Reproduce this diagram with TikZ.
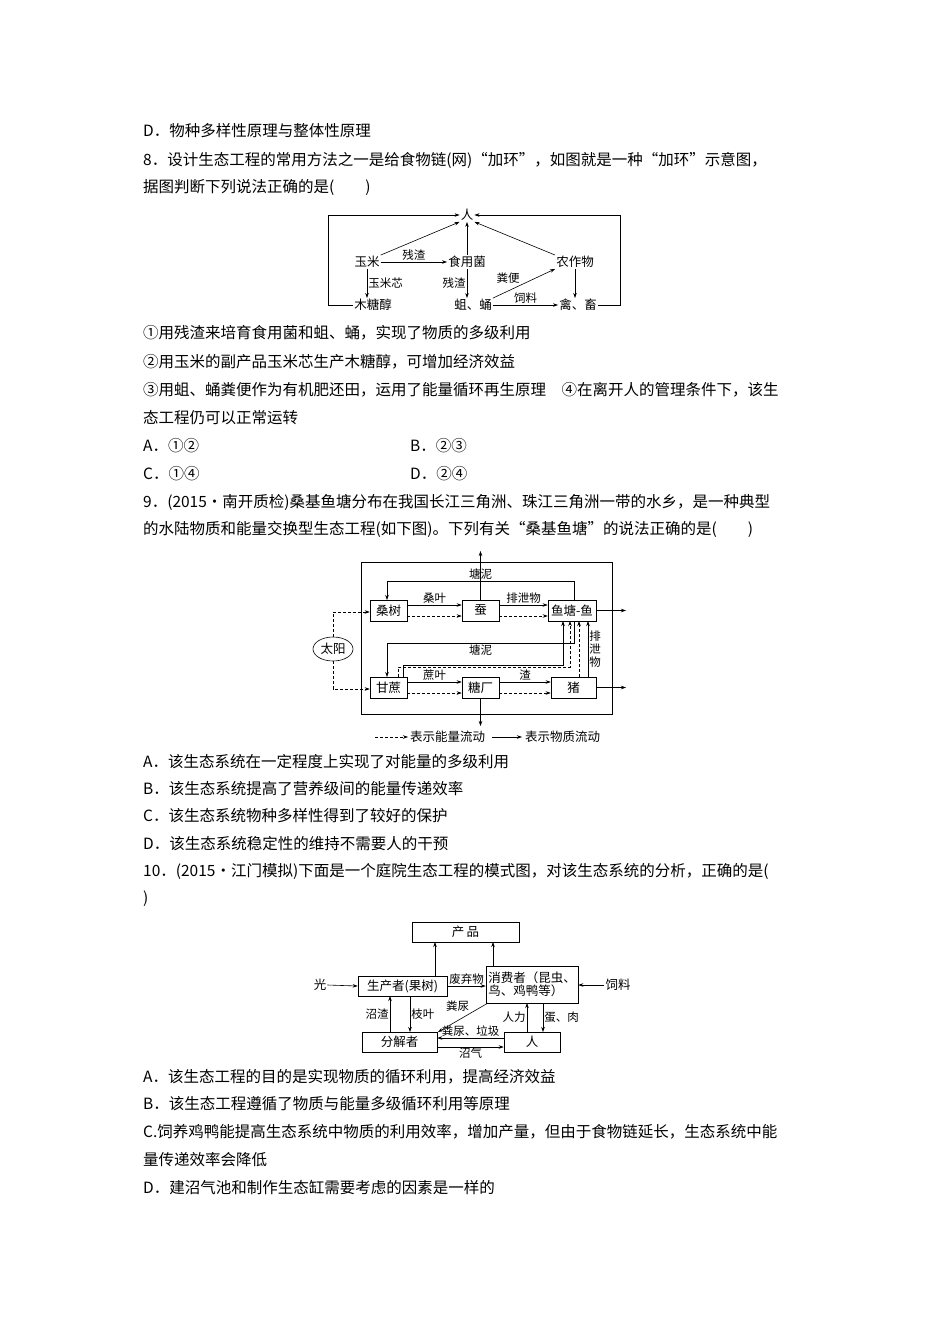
\documentclass[tikz,border=0pt]{standalone}
\usepackage{fontspec}
\setmainfont{Noto Sans CJK SC}
\usetikzlibrary{arrows.meta,shapes.geometric}
\begin{document}
\begin{tikzpicture}[x=1pt,y=-1pt,
  line/.style={anchor=west,inner sep=0pt,font=\fontsize{15.5}{16}\selectfont},
  lab/.style={inner sep=1pt,font=\fontsize{11.5}{12}\selectfont},
  dn/.style={inner sep=1pt,font=\fontsize{12.5}{13}\selectfont},
  bx/.style={draw,line width=0.6pt,inner sep=0pt},
  ar/.style={line width=0.6pt,-{Stealth[length=5pt,width=3.5pt]}},
  da/.style={ar,dashed,dash pattern=on 3pt off 2pt}]
\useasboundingbox[fill=white] (0,0) rectangle (950,1344);
% text lines
\node[line] (t1) at (143,131) {D．物种多样性原理与整体性原理};
\node[line] (t2) at (143,160) {8．设计生态工程的常用方法之一是给食物链(网)“加环”，如图就是一种“加环”示意图，};
\node[line] (t3) at (143,187) {据图判断下列说法正确的是(\hspace{2em})};
\node[line] (t4) at (143,333) {①用残渣来培育食用菌和蛆、蛹，实现了物质的多级利用};
\node[line] (t5) at (143,362) {②用玉米的副产品玉米芯生产木糖醇，可增加经济效益};
\node[line] (t6) at (143,390) {③用蛆、蛹粪便作为有机肥还田，运用了能量循环再生原理\hspace{1em}④在离开人的管理条件下，该生};
\node[line] (t7) at (143,418) {态工程仍可以正常运转};
\node[line] (t8) at (143,446) {A．①②};
\node[line] (t9) at (410,446) {B．②③};
\node[line] (t10) at (143,474) {C．①④};
\node[line] (t11) at (410,474) {D．②④};
\node[line] (t12) at (143,502) {9．(2015·南开质检)桑基鱼塘分布在我国长江三角洲、珠江三角洲一带的水乡，是一种典型};
\node[line] (t13) at (143,529) {的水陆物质和能量交换型生态工程(如下图)。下列有关“桑基鱼塘”的说法正确的是(\hspace{2em})};
\node[line] (t14) at (143,762) {A．该生态系统在一定程度上实现了对能量的多级利用};
\node[line] (t15) at (143,789) {B．该生态系统提高了营养级间的能量传递效率};
\node[line] (t16) at (143,816) {C．该生态系统物种多样性得到了较好的保护};
\node[line] (t17) at (143,844) {D．该生态系统稳定性的维持不需要人的干预};
\node[line] (t18) at (143,871) {10．(2015·江门模拟)下面是一个庭院生态工程的模式图，对该生态系统的分析，正确的是(};
\node[line] (t19) at (143,899) {)};
\node[line] (t20) at (143,1077) {A．该生态工程的目的是实现物质的循环利用，提高经济效益};
\node[line] (t21) at (143,1104) {B．该生态工程遵循了物质与能量多级循环利用等原理};
\node[line] (t22) at (143,1132) {C.饲养鸡鸭能提高生态系统中物质的利用效率，增加产量，但由于食物链延长，生态系统中能};
\node[line] (t23) at (143,1160) {量传递效率会降低};
\node[line] (t24) at (143,1187) {D．建沼气池和制作生态缸需要考虑的因素是一样的};
% diagram 1
\node[dn] (ren) at (467,215) {人};
\node[dn] (ym) at (367,262) {玉米};
\node[dn] (syj) at (467,262) {食用菌};
\node[dn] (nzw) at (575,262) {农作物};
\node[dn] (mtc) at (373,305) {木糖醇};
\node[dn] (qy) at (473,305) {蛆、蛹};
\node[dn] (qc) at (578,305) {禽、畜};
\draw[ar] (ym.east) -- node[lab,above]{残渣} (syj.west);
\draw[ar] (ym.south) -- node[lab,right]{玉米芯} (ym.south|-mtc.north);
\draw[ar] (syj.south) -- node[lab,left]{残渣} (syj.south|-qy.north);
\draw[ar] (syj.north) -- (ren.south);
\draw[ar] (ym.north east) -- (ren.south west);
\draw[ar] (nzw.north west) -- (ren.south east);
\draw[ar] (qy.north east) -- node[lab,above left,pos=0.45]{粪便} (nzw.south west);
\draw[ar] (qy.east) -- node[lab,above]{饲料} (qc.west);
\draw[ar] (nzw.south) -- (nzw.south|-qc.north);
\draw[ar] (mtc.west) -| (328,215) -- (ren.west);
\draw[ar] (qc.east) -| (620,215) -- (ren.east);
% diagram 2
\draw[line width=0.6pt] (361,562) rectangle (612,714);
\node[bx,minimum width=37pt,minimum height=21pt,dn] (ss) at (388.5,610.5) {桑树};
\node[bx,minimum width=37pt,minimum height=21pt,dn] (can) at (480.5,610.5) {蚕};
\node[bx,minimum width=48pt,minimum height=21pt,dn] (yt) at (572,610.5) {鱼塘-鱼};
\node[bx,minimum width=37pt,minimum height=21pt,dn] (gz) at (388.5,687.5) {甘蔗};
\node[bx,minimum width=37pt,minimum height=21pt,dn] (tc) at (480.5,687.5) {糖厂};
\node[bx,minimum width=45pt,minimum height=21pt,dn] (zhu) at (573.5,687.5) {猪};
\node[draw,ellipse,line width=0.6pt,minimum width=40pt,minimum height=24pt,inner sep=0pt,dn] (ty) at (333,649) {太阳};
\coordinate (canout) at (480.5,551);
\coordinate (tcout) at (480.5,726);
\coordinate (ytout) at (626,610.5);
\coordinate (zhuout) at (626,687.5);
\draw[ar] (can.north) -- (canout);
\draw[ar] (tc.south) -- (tcout);
\draw[ar] (yt.east) -- (ytout);
\draw[ar] (zhu.east) -- (zhuout);
\draw[ar] (574,600) -- (574,581) -| node[lab,above,pos=0.25]{塘泥} (387,600);
\draw[ar] (ss.east|-0,605) -- node[lab,above]{桑叶} (can.west|-0,605);
\draw[da] (ss.east|-0,616) -- (can.west|-0,616);
\draw[ar] (can.east|-0,605) -- node[lab,above]{排泄物} (yt.west|-0,605);
\draw[da] (can.east|-0,616) -- (yt.west|-0,616);
\draw[ar] (gz.east|-0,682) -- node[lab,above]{蔗叶} (tc.west|-0,682);
\draw[da] (gz.east|-0,693) -- (tc.west|-0,693);
\draw[ar] (tc.east|-0,682) -- node[lab,above]{渣} (zhu.west|-0,682);
\draw[da] (tc.east|-0,693) -- (zhu.west|-0,693);
\draw[da] (ty.north) |- (ss.west|-0,612);
\draw[da] (ty.south) |- (gz.west|-0,689);
\draw[ar] (574,621) -- (574,643) -| node[lab,below,pos=0.25]{塘泥} (387,677);
\draw[ar] (403,677) |- (563,665) -- (563,621);
\draw[da] (398,677) -- (398,667) -- (570,667) -- (570,621);
\draw[da] (579,677) -- (579,621);
\draw[ar] (588,677) -- node[lab,right,align=center,font=\fontsize{11.5}{13}\selectfont]{排\\泄\\物} (588,621);
% legend
\coordinate (l1a) at (375,737); \coordinate (l1b) at (408,737);
\coordinate (l2a) at (492,737); \coordinate (l2b) at (522,737);
\draw[da] (l1a) -- (l1b);
\node[dn,anchor=west] (leg1) at (409,737) {表示能量流动};
\draw[ar] (l2a) -- (l2b);
\node[dn,anchor=west] (leg2) at (524,737) {表示物质流动};
% diagram 3
\node[bx,minimum width=107pt,minimum height=20pt,dn] (cp) at (465.5,932) {产\,品};
\node[bx,minimum width=89pt,minimum height=20pt,dn] (scz) at (402.5,986) {生产者(果树)};
\node[bx,minimum width=92pt,minimum height=37pt,dn,align=left] (xfz) at (532,984.5) {消费者（昆虫、\\鸟、鸡鸭等）};
\node[bx,minimum width=75pt,minimum height=20pt,dn] (fjz) at (399.5,1042) {分解者};
\node[bx,minimum width=56pt,minimum height=20pt,dn] (rr) at (532,1042) {人};
\node[dn] (guang) at (320,985) {光};
\node[dn] (sl) at (618,985) {饲料};
\draw[ar] (guang.east) -- (scz.west);
\draw[ar] (sl.west) -- (xfz.east|-sl);
\draw[ar] (435,976) -- (435,942);
\draw[ar] (493,966) -- (493,942);
\draw[ar] (scz.east) -- node[lab,above]{废弃物} (xfz.west|-scz);
\draw[ar] (390,1032) -- node[lab,left]{沼渣} (390,996);
\draw[ar] (410,996) -- node[lab,right]{枝叶} (410,1032);
\draw[ar] (488,1003) -- node[lab,above left,pos=0.35]{粪尿} (438,1032);
\draw[ar] (527,1032) -- node[lab,left]{人力} (527,1003);
\draw[ar] (543,1003) -- node[lab,right]{蛋、肉} (543,1032);
\draw[ar] (rr.west|-0,1038) -- node[lab,above]{粪尿、垃圾} (fjz.east|-0,1038);
\draw[ar] (fjz.east|-0,1047) -- node[lab,below]{沼气} (rr.west|-0,1047);
\end{tikzpicture}
\end{document}
